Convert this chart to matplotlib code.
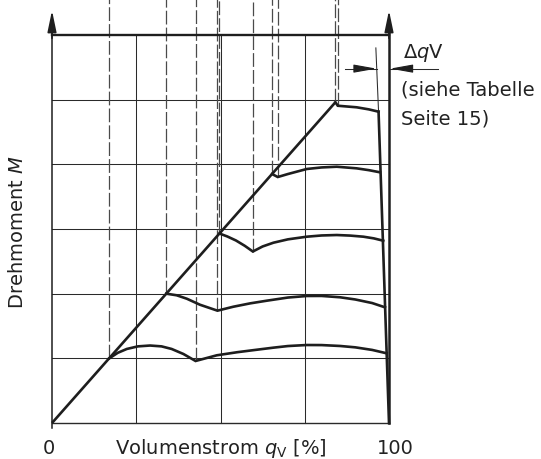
import numpy as np
import matplotlib
matplotlib.use("Agg")
import matplotlib.pyplot as plt

plt.rcParams['font.family'] = ['DejaVu Sans']
plt.rcParams['mathtext.fontset'] = 'dejavusans'

# flow q_V in % of max, torque M in grid units (6 divisions)
diag_x = [0.0, 84.1]
diag_y = [0.0, 4.96]

c1_x = [17.0, 19.5, 22.2, 25.5, 29.1, 32.5, 35.5, 39.0, 42.6, 48.9, 55.0, 60.0,
        65.7, 70.0, 75.6, 80.0, 85.5, 90.0, 95.0, 99.3]
c1_y = [1.00, 1.085, 1.145, 1.185, 1.198, 1.185, 1.145, 1.067, 0.959, 1.047, 1.095,
        1.128, 1.165, 1.19, 1.206, 1.205, 1.191, 1.17, 1.13, 1.078]

c2_x = [33.9, 37.0, 40.0, 43.9, 49.1, 53.8, 58.8, 63.7, 70.0, 75.6, 80.0, 85.5,
        90.0, 95.0, 98.8]
c2_y = [2.00, 1.975, 1.922, 1.829, 1.737, 1.798, 1.85, 1.891, 1.94, 1.964, 1.965,
        1.944, 1.91, 1.855, 1.789]

c3_x = [49.7, 52.0, 54.6, 57.2, 59.6, 62.5, 65.7, 70.0, 75.6, 80.0, 84.5, 88.5,
        92.4, 95.5, 98.3]
c3_y = [2.93, 2.885, 2.822, 2.74, 2.652, 2.73, 2.788, 2.84, 2.881, 2.90, 2.907,
        2.898, 2.881, 2.855, 2.819]

c4_x = [65.3, 67.0, 70.0, 75.6, 80.0, 84.5, 90.4, 94.0, 97.3]
c4_y = [3.85, 3.804, 3.85, 3.928, 3.952, 3.963, 3.938, 3.91, 3.877]

c5_x = [84.1, 84.8, 90.4, 94.0, 96.9]
c5_y = [4.96, 4.906, 4.882, 4.85, 4.814]

# cut-off line at the right (thin part above the top curve)
cut_x = [96.1, 96.9, 100.0]
cut_y = [5.80, 4.814, 0.0]

# dashed guides from curve starts / cusps up to the top
guide_x = [17.0, 33.9, 42.6, 49.1, 49.7, 59.6, 65.3, 67.0, 84.1, 84.8]
guide_y = [1.00, 2.00, 0.959, 1.737, 2.93, 2.652, 3.85, 3.804, 4.96, 4.906]

grid_x = [25, 50, 75]
grid_y = [1, 2, 3, 4, 5]

dq_y = 5.48

fig = plt.figure(figsize=(5.41, 4.59), dpi=100)
ax = fig.add_axes([52/541, 36/459, 337/541, 388/459])
ax.set_xlim(0, 100)
ax.set_ylim(0, 6)
ax.axis('off')

dark = '#1e1e1e'
thin = '#2a2a2a'

# grid
for gx in grid_x:
    ax.plot([gx, gx], [0, 6], color=thin, lw=0.75, clip_on=False)
for gy in grid_y:
    ax.plot([0, 100], [gy, gy], color=thin, lw=0.75, clip_on=False)

# dashed guides
for gx, gy in zip(guide_x, guide_y):
    ax.plot([gx, gx], [gy, 6.7], color='#4a4a4a', lw=0.9,
            linestyle=(0, (11, 2.5)), clip_on=False)

# frame: bottom, left axis, top, right axis
ax.plot([0, 100], [0, 0], color=thin, lw=1.0, clip_on=False)
ax.plot([0, 0], [-0.08, 6.05], color=dark, lw=1.1, clip_on=False)
ax.plot([0, 100], [6, 6], color=dark, lw=1.7, clip_on=False)
ax.plot([100, 100], [0, 6.05], color=dark, lw=1.8, clip_on=False)

arrow_style = "-|>,head_length=1.3,head_width=0.27"
for ax_x in [0, 100]:
    ax.annotate("", xy=(ax_x, 6.38), xytext=(ax_x, 5.95),
                arrowprops=dict(arrowstyle=arrow_style, color=dark, lw=1.2,
                                mutation_scale=10, shrinkA=0, shrinkB=0),
                annotation_clip=False)

# characteristic curves
ax.plot(diag_x, diag_y, color=dark, lw=1.9, solid_capstyle='butt', clip_on=False)
for cx, cy in [(c1_x, c1_y), (c2_x, c2_y), (c3_x, c3_y), (c4_x, c4_y), (c5_x, c5_y)]:
    ax.plot(cx, cy, color=dark, lw=1.9, solid_joinstyle='miter', clip_on=False)
ax.plot(cut_x[:2], cut_y[:2], color=thin, lw=0.75, clip_on=False)
ax.plot(cut_x[1:], cut_y[1:], color=dark, lw=1.9, clip_on=False)

# delta q_V dimension
dim_style = "-|>,head_length=1.4,head_width=0.25"
ax.plot([87.0, 96.3], [dq_y, dq_y], color=thin, lw=0.75, clip_on=False)
ax.plot([100.3, 114.5], [dq_y, dq_y], color=thin, lw=0.75, clip_on=False)
ax.annotate("", xy=(96.3, dq_y), xytext=(90.5, dq_y),
            arrowprops=dict(arrowstyle=dim_style, color=dark, lw=0.8,
                            mutation_scale=10, shrinkA=0, shrinkB=0),
            annotation_clip=False)
ax.annotate("", xy=(100.3, dq_y), xytext=(106.0, dq_y),
            arrowprops=dict(arrowstyle=dim_style, color=dark, lw=0.8,
                            mutation_scale=10, shrinkA=0, shrinkB=0),
            annotation_clip=False)

txt = dict(fontsize=14, color='#222222', clip_on=False)
ax.text(-0.9, -0.48, "0", ha='center', va='baseline', **txt)
ax.text(101.9, -0.48, "100", ha='center', va='baseline', **txt)
ax.text(18.7, -0.48, r"Volumenstrom $q_\mathrm{V}$ [%]", ha='left', va='baseline', **txt)
ax.text(-10.1, 2.95, r"Drehmoment $M$", rotation=90, ha='center', va='center', **txt)
ax.text(104.2, 5.64, r"$\Delta q$V", ha='left', va='baseline', **txt)
ax.text(103.6, 5.07, "(siehe Tabelle", ha='left', va='baseline', **txt)
ax.text(103.6, 4.62, "Seite 15)", ha='left', va='baseline', **txt)

fig.savefig("out.png", dpi=100)
